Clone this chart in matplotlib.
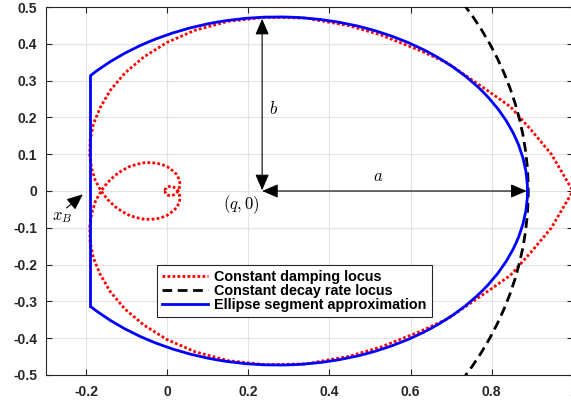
import numpy as np
import matplotlib
matplotlib.use('Agg')
import matplotlib.pyplot as plt
from matplotlib.patches import Arc, Circle
from matplotlib.lines import Line2D

plt.rcParams['font.family'] = ['Liberation Sans', 'DejaVu Sans']
plt.rcParams['mathtext.fontset'] = 'cm'
plt.rcParams['axes.unicode_minus'] = False

# constant damping locus, upper branch, mirrored below
damp_x = [1.000, 0.947, 0.897, 0.846, 0.800, 0.692, 0.625, 0.527, 0.449, 0.341,
          0.241, 0.150, 0.069, 0.000, -0.058, -0.104, -0.140, -0.165, -0.182, -0.190,
          -0.191, -0.186, -0.177, -0.163, -0.147, -0.129, -0.111, -0.092, -0.073, -0.056,
          -0.039, -0.024, -0.011, 0.000, 0.009, 0.017, 0.023, 0.027, 0.030, 0.031,
          0.031, 0.030, 0.029, 0.027, 0.021, 0.015, 0.009, 0.004, 0.000, -0.003,
          -0.004, -0.005, -0.005, -0.004]
damp_y = [0.000, 0.100, 0.166, 0.229, 0.265, 0.347, 0.381, 0.424, 0.449, 0.470,
          0.472, 0.461, 0.437, 0.404, 0.364, 0.321, 0.274, 0.227, 0.182, 0.138,
          0.097, 0.060, 0.028, 0.000, -0.023, -0.042, -0.056, -0.067, -0.073, -0.077,
          -0.077, -0.075, -0.071, -0.066, -0.059, -0.052, -0.045, -0.037, -0.030, -0.023,
          -0.016, -0.010, -0.005, 0.000, 0.007, 0.011, 0.013, 0.012, 0.011, 0.009,
          0.006, 0.004, 0.002, 0.000]

# ellipse segment approximation
ell_q = 0.272
ell_a = 0.616
ell_b = 0.473
x_B = -0.190

# constant decay rate locus (circle about the origin)
decay_r = 0.890

xticks = [-0.2, 0, 0.2, 0.4, 0.6, 0.8, 1.0]
xticklabels = ['-0.2', '0', '0.2', '0.4', '0.6', '0.8', '1']
yticks = [-0.5, -0.4, -0.3, -0.2, -0.1, 0, 0.1, 0.2, 0.3, 0.4, 0.5]
yticklabels = ['-0.5', '-0.4', '-0.3', '-0.2', '-0.1', '0', '0.1', '0.2', '0.3', '0.4', '0.5']

fig = plt.figure(figsize=(5.71, 4.05), dpi=100)
ax = fig.add_axes([0.0797, 0.0741, 0.9236, 0.9086])

# red dotted spiral
dx = np.array(damp_x)
dy = np.array(damp_y)
xs = np.concatenate([dx[::-1], dx[1:]])
ys = np.concatenate([-dy[::-1], dy[1:]])
h1, = ax.plot(xs, ys, color='r', lw=2, linestyle=(0, (1, 0.8)), zorder=3,
              label='Constant damping locus')

# black dashed circle
circ = Circle((0, 0), decay_r, fill=False, color='k', lw=2,
              linestyle=(0, (3.5, 2)), zorder=4)
ax.add_patch(circ)
h2 = Line2D([], [], color='k', lw=2, linestyle=(0, (3.5, 2)),
            label='Constant decay rate locus')

# blue ellipse segment
y_cut = ell_b * np.sqrt(1 - ((x_B - ell_q) / ell_a) ** 2)
ang = np.degrees(np.arctan2(y_cut, x_B - ell_q))
arc = Arc((ell_q, 0), 2 * ell_a, 2 * ell_b, theta1=-ang, theta2=ang,
          color='b', lw=2, zorder=5)
ax.add_patch(arc)
h3, = ax.plot([x_B, x_B], [-y_cut, y_cut], color='b', lw=2, zorder=5,
              solid_capstyle='projecting', label='Ellipse segment approximation')

# annotations
ap2 = dict(arrowstyle='<|-|>,head_length=0.7,head_width=0.3', color='k', lw=0.8,
           shrinkA=0, shrinkB=0, mutation_scale=14)
ap1 = dict(arrowstyle='-|>,head_length=0.7,head_width=0.3', color='k', lw=0.8,
           shrinkA=0, shrinkB=0, mutation_scale=14)
ax.annotate('', xy=(0.234, 0.468), xytext=(0.234, 0.002), arrowprops=ap2, zorder=6)
ax.annotate('', xy=(0.886, 0.0), xytext=(0.234, 0.0), arrowprops=ap2, zorder=6)
ax.annotate('', xy=(-0.208, -0.009), xytext=(-0.248, -0.046), arrowprops=ap1, zorder=6)
ax.text(0.262, 0.225, r'$b$', fontsize=12, ha='center', va='center')
ax.text(0.519, 0.039, r'$a$', fontsize=12, ha='center', va='center')
ax.text(0.183, -0.036, r'$(q,0)$', fontsize=12, ha='center', va='center')
ax.text(-0.259, -0.073, r'$x_B$', fontsize=12, ha='center', va='center')

ax.set_xlim(-0.3, 1.0)
ax.set_ylim(-0.5, 0.5)
ax.set_xticks(xticks)
ax.set_xticklabels(xticklabels)
ax.set_yticks(yticks)
ax.set_yticklabels(yticklabels)
for lab in ax.get_xticklabels() + ax.get_yticklabels():
    lab.set_fontweight('bold')
ax.tick_params(axis='both', direction='in', length=4, width=0.8, colors='#262626',
               labelsize=10, top=True, right=True)
ax.tick_params(axis='x', pad=7)
ax.tick_params(axis='y', pad=6)
ax.grid(True, color='#e3e3e3', lw=0.8)
ax.set_axisbelow(True)
for sp in ax.spines.values():
    sp.set_color('#262626')
    sp.set_linewidth(0.8)

leg = ax.legend(handles=[h1, h2, h3], loc='lower left', bbox_to_anchor=(0.2114, 0.1576),
                borderaxespad=0, fancybox=False, framealpha=1, edgecolor='#262626',
                prop={'weight': 'bold', 'size': 10.4}, handlelength=3.2,
                handletextpad=0.43, labelspacing=0.0, borderpad=0.35)
leg.get_frame().set_linewidth(0.8)
leg.set_zorder(10)

fig.savefig('out.png', dpi=100)
